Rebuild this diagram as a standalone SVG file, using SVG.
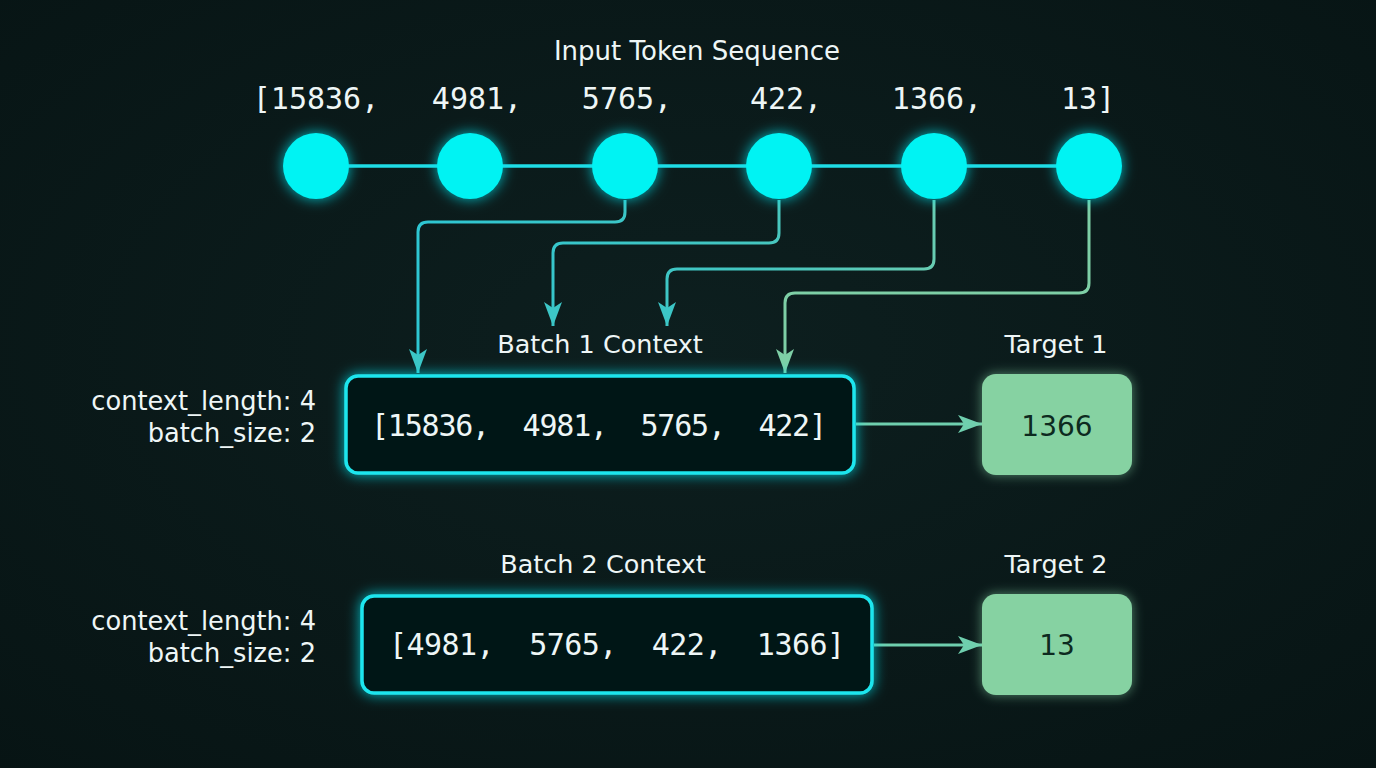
<svg xmlns="http://www.w3.org/2000/svg" width="1376" height="768" viewBox="0 0 1376 768">
<defs>
<style>
.sans{font-family:"DejaVu Sans","Liberation Sans",sans-serif;fill:#eef6f6;}
.mono{font-family:"DejaVu Sans Mono","Liberation Mono",monospace;fill:#eef6f6;}
.tok{fill:#00f3f3;filter:url(#glow);}
.ctx{fill:#061414;stroke:#1fe6ee;stroke-width:3.5;filter:url(#glow);}
.tgt{fill:#86d2a2;filter:url(#glowg);}
.conn{fill:none;stroke-width:3;stroke-linejoin:round;}
</style>
<radialGradient id="bg" cx="50%" cy="45%" r="75%">
<stop offset="0" stop-color="#0d1f1f"/>
<stop offset="1" stop-color="#071414"/>
</radialGradient>
<linearGradient id="cg" gradientUnits="userSpaceOnUse" x1="420" y1="0" x2="1090" y2="0">
<stop offset="0" stop-color="#2ec6d2"/>
<stop offset="0.5" stop-color="#44c6c0"/>
<stop offset="1" stop-color="#86d2a6"/>
</linearGradient>
<filter id="glow" x="-30%" y="-30%" width="160%" height="160%">
<feGaussianBlur in="SourceAlpha" stdDeviation="7" result="b"/>
<feFlood flood-color="#00e5f0" flood-opacity="0.8"/>
<feComposite in2="b" operator="in" result="g"/>
<feMerge><feMergeNode in="g"/><feMergeNode in="SourceGraphic"/></feMerge>
</filter>
<filter id="glowg" x="-30%" y="-30%" width="160%" height="160%">
<feGaussianBlur in="SourceAlpha" stdDeviation="6" result="b"/>
<feFlood flood-color="#8de0b0" flood-opacity="0.55"/>
<feComposite in2="b" operator="in" result="g"/>
<feMerge><feMergeNode in="g"/><feMergeNode in="SourceGraphic"/></feMerge>
</filter>
<marker id="ac" viewBox="0 0 24 18" refX="24" refY="9" markerWidth="24" markerHeight="18" markerUnits="userSpaceOnUse" orient="auto">
<path d="M0,0 L24,9 L0,18 L6,9 Z" fill="#3cc6c6"/>
</marker>
<marker id="ag" viewBox="0 0 24 18" refX="24" refY="9" markerWidth="24" markerHeight="18" markerUnits="userSpaceOnUse" orient="auto">
<path d="M0,0 L24,9 L0,18 L6,9 Z" fill="#7ecfa6"/>
</marker>
<marker id="ar" viewBox="0 0 24 18" refX="24" refY="9" markerWidth="24" markerHeight="18" markerUnits="userSpaceOnUse" orient="auto">
<path d="M0,0 L24,9 L0,18 L6,9 Z" fill="#6fcfae"/>
</marker>
</defs>
<rect width="1376" height="768" fill="url(#bg)"/>

<text class="sans" x="697" y="60" font-size="26" text-anchor="middle">Input Token Sequence</text>

<g id="connectors">
<line x1="316" y1="166" x2="1089" y2="166" stroke="#1fdde6" stroke-width="3.5"/>
<path class="conn" stroke="url(#cg)" d="M625,200 V212 Q625,222 615,222 H428 Q418,222 418,232 V373" marker-end="url(#ac)"/>
<path class="conn" stroke="url(#cg)" d="M779,200 V233 Q779,243 769,243 H563 Q553,243 553,253 V326" marker-end="url(#ac)"/>
<path class="conn" stroke="url(#cg)" d="M934,200 V259 Q934,269 924,269 H677 Q667,269 667,279 V326" marker-end="url(#ac)"/>
<path class="conn" stroke="#7ecfa6" d="M1089,200 V283 Q1089,293 1079,293 H795 Q785,293 785,303 V373" marker-end="url(#ag)"/>
<line x1="856" y1="424" x2="982" y2="424" stroke="#6fcfae" stroke-width="3" marker-end="url(#ar)"/>
<line x1="874" y1="645" x2="982" y2="645" stroke="#6fcfae" stroke-width="3" marker-end="url(#ar)"/>
</g>

<g id="tok1"><circle class="tok" cx="316" cy="166" r="33"/><text class="mono" x="316" y="109" font-size="30" text-anchor="middle">[15836,</text></g>
<g id="tok2"><circle class="tok" cx="470" cy="166" r="33"/><text class="mono" x="477" y="109" font-size="30" text-anchor="middle">4981,</text></g>
<g id="tok3"><circle class="tok" cx="625" cy="166" r="33"/><text class="mono" x="627" y="109" font-size="30" text-anchor="middle">5765,</text></g>
<g id="tok4"><circle class="tok" cx="779" cy="166" r="33"/><text class="mono" x="786" y="109" font-size="30" text-anchor="middle">422,</text></g>
<g id="tok5"><circle class="tok" cx="934" cy="166" r="33"/><text class="mono" x="937" y="109" font-size="30" text-anchor="middle">1366,</text></g>
<g id="tok6"><circle class="tok" cx="1089" cy="166" r="33"/><text class="mono" x="1088" y="109" font-size="30" text-anchor="middle">13]</text></g>

<g id="batch1">
<text class="sans" x="600" y="353" font-size="25.5" text-anchor="middle">Batch 1 Context</text>
<rect class="ctx" x="346" y="376" width="508" height="97" rx="12"/>
<text class="mono" x="599" y="436" font-size="30" text-anchor="middle" textLength="456" lengthAdjust="spacing" xml:space="preserve">[15836,  4981,  5765,  422]</text>
</g>
<g id="params1">
<text class="sans" x="316" y="410" font-size="25.7" text-anchor="end">context_length: 4</text>
<text class="sans" x="316" y="442" font-size="25.7" text-anchor="end">batch_size: 2</text>
</g>
<g id="target1">
<text class="sans" x="1056" y="353" font-size="25.5" text-anchor="middle">Target 1</text>
<rect class="tgt" x="982" y="374" width="150" height="101" rx="14"/>
<text class="sans" x="1057" y="436" font-size="28" text-anchor="middle" style="fill:#0d2a1f">1366</text>
</g>

<g id="batch2">
<text class="sans" x="603" y="573" font-size="25.5" text-anchor="middle">Batch 2 Context</text>
<rect class="ctx" x="362" y="596" width="510" height="97" rx="12"/>
<text class="mono" x="617" y="655" font-size="30" text-anchor="middle" textLength="456" lengthAdjust="spacing" xml:space="preserve">[4981,  5765,  422,  1366]</text>
</g>
<g id="params2">
<text class="sans" x="316" y="630" font-size="25.7" text-anchor="end">context_length: 4</text>
<text class="sans" x="316" y="662" font-size="25.7" text-anchor="end">batch_size: 2</text>
</g>
<g id="target2">
<text class="sans" x="1056" y="573" font-size="25.5" text-anchor="middle">Target 2</text>
<rect class="tgt" x="982" y="594" width="150" height="101" rx="14"/>
<text class="sans" x="1057" y="655" font-size="28" text-anchor="middle" style="fill:#0d2a1f">13</text>
</g>
</svg>
